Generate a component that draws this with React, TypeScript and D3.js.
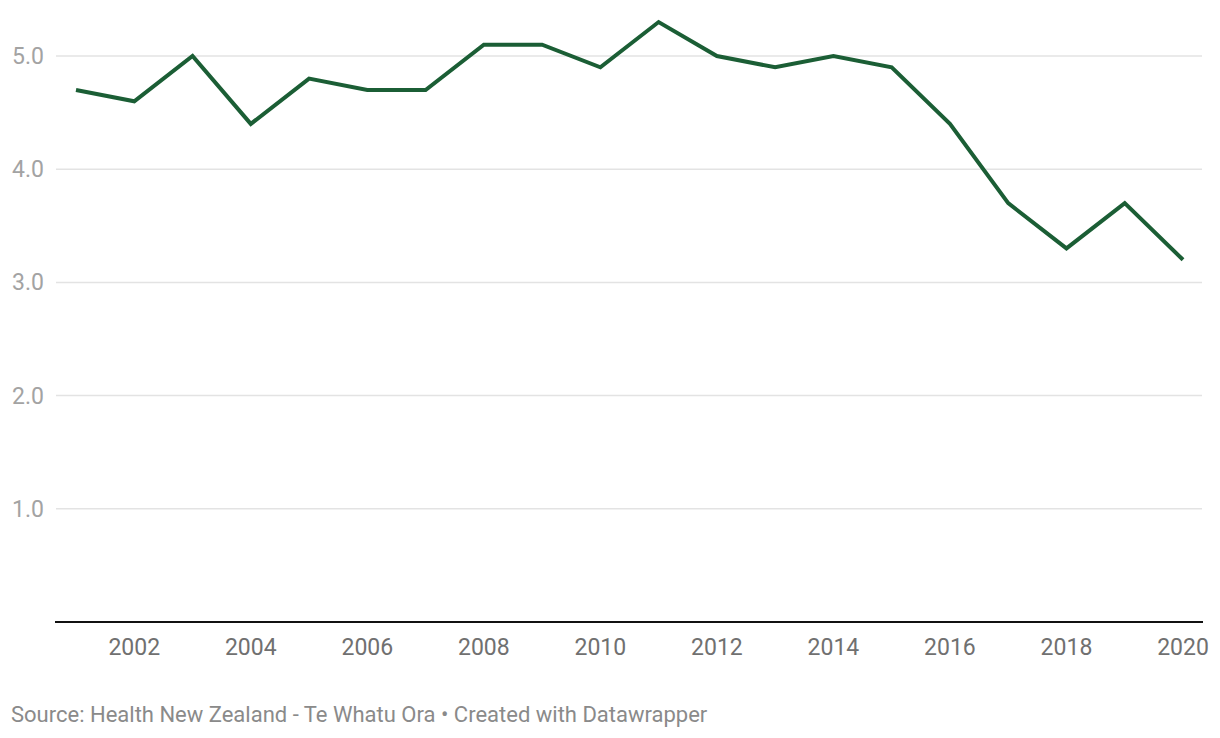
import React from "react";
import * as d3 from "d3";

const years = [2001,2002,2003,2004,2005,2006,2007,2008,2009,2010,2011,2012,2013,2014,2015,2016,2017,2018,2019,2020];
const values = [4.7,4.6,5.0,4.4,4.8,4.7,4.7,5.1,5.1,4.9,5.3,5.0,4.9,5.0,4.9,4.4,3.7,3.3,3.7,3.2];
const yTicks = [1,2,3,4,5];
const xTicks = [2002,2004,2006,2008,2010,2012,2014,2016,2018,2020];
const source = "Source: Health New Zealand - Te Whatu Ora • Created with Datawrapper";

export default function App() {
  const W = 1220, H = 738;
  const x = d3.scaleLinear().domain([2001, 2020]).range([76, 1183]);
  const y = d3.scaleLinear().domain([0, 5]).range([622, 56]);
  const line = d3.line<number>().x((_, i) => x(years[i])).y((v) => y(v));
  const font = "Roboto, 'Noto Sans', sans-serif";
  return (
    <svg width={W} height={H} style={{ position: "absolute", left: 0, top: 0, background: "#fff" }} fontFamily={font}>
      {yTicks.map((t) => (
        <g key={t}>
          <line x1={56} x2={1202} y1={y(t)} y2={y(t)} stroke="#e3e3e3" strokeWidth={1.5} />
          <text x={44} y={y(t)} dy="0.35em" textAnchor="end" fontSize={23} fill="#a3a3a3">{t.toFixed(1)}</text>
        </g>
      ))}
      <line x1={55} x2={1203} y1={y(0)} y2={y(0)} stroke="#111" strokeWidth={2} />
      {xTicks.map((t) => (
        <text key={t} x={x(t)} y={647} dy="0.35em" textAnchor="middle" fontSize={23} fill="#707070">{t}</text>
      ))}
      <path d={line(values) ?? ""} fill="none" stroke="#1b5e35" strokeWidth={4} strokeLinejoin="miter" />
      <text x={11} y={714} dy="0.35em" fontSize={22} fill="#8a8a8a">{source}</text>
    </svg>
  );
}
